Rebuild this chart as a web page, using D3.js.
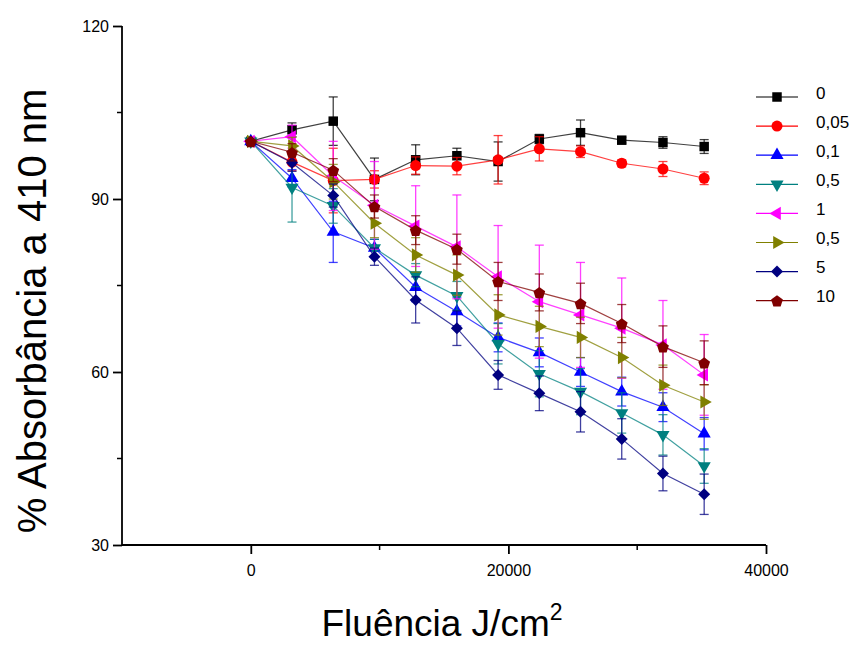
<!DOCTYPE html>
<html>
<head>
<meta charset="utf-8">
<script src="https://cdn.jsdelivr.net/npm/d3@7"></script>
<style>
  body { margin: 0; background: #fff; }
  svg { font-family: "Liberation Sans", Arial, sans-serif; }
</style>
</head>
<body>
<div id="chart"></div>
<script>
// fluence values (J/cm2)
const fluence = [0, 3200, 6400, 9600, 12800, 16000, 19200, 22400, 25600, 28800, 32000, 35200];

// legend labels, in drawing order
const labels = ["0", "0,05", "0,1", "0,5", "1", "0,5", "5", "10"];

// % absorbance for each series
const s0    = [100, 102.0, 103.5, 93.4, 96.8, 97.5, 96.5, 100.4, 101.5, 100.2, 99.8, 99.1];
const s005  = [100, 96.4, 93.2, 93.4, 95.8, 95.7, 96.8, 98.7, 98.2, 96.2, 95.2, 93.6];
const s01   = [100, 93.6, 84.3, 81.5, 74.7, 70.5, 66.0, 63.4, 60.0, 56.6, 53.9, 49.3];
const s05a  = [100, 92.0, 88.8, 81.5, 76.8, 73.2, 64.9, 59.7, 56.6, 52.9, 49.1, 43.7];
const s1    = [100, 100.8, 94.0, 88.9, 85.3, 81.7, 76.5, 72.2, 69.9, 67.6, 64.7, 59.5];
const s05b  = [100, 99.2, 93.0, 85.8, 80.3, 76.8, 69.9, 67.9, 66.0, 62.5, 57.7, 54.8];
const s5    = [100, 96.3, 90.6, 80.0, 72.5, 67.6, 59.5, 56.3, 53.1, 48.4, 42.4, 38.8];
const s10   = [100, 98.1, 95.0, 88.7, 84.6, 81.3, 75.7, 73.8, 71.9, 68.4, 64.4, 61.6];

// error bars (+/-)
const e0    = [0, 1.2, 4.2, 3.7, 2.6, 1.3, 3.4, 0.8, 2.2, 0.5, 1.0, 1.2];
const e005  = [0, 1.5, 5.6, 1.5, 1.5, 1.5, 4.2, 2.1, 1.0, 0.6, 1.3, 1.1];
const e01   = [0, 1.5, 5.3, 1.5, 2.5, 2.5, 2.5, 2.5, 2.5, 2.5, 2.5, 2.8];
const e05a  = [0, 6.0, 3.0, 1.5, 2.0, 2.5, 3.5, 4.0, 4.0, 3.5, 3.5, 3.0];
const e1    = [0, 2.0, 6.0, 7.6, 7.0, 9.0, 8.9, 9.8, 9.1, 8.7, 7.7, 7.0];
const e05b  = [0, 1.5, 3.0, 2.5, 3.0, 3.5, 3.5, 3.5, 3.5, 3.5, 3.5, 3.0];
const e5    = [0, 1.5, 2.0, 1.5, 4.0, 3.0, 2.5, 3.0, 3.5, 3.5, 3.0, 3.5];
const e10   = [0, 1.5, 2.0, 2.0, 2.5, 2.6, 3.3, 3.2, 3.5, 3.3, 3.6, 3.8];

// axis ticks
const xTicks = [0, 20000, 40000];
const xMinor = [10000, 30000];
const yTicks = [30, 60, 90, 120];
const yMinor = [45, 75, 105];

const values = [s0, s005, s01, s05a, s1, s05b, s5, s10];
const errors = [e0, e005, e01, e05a, e1, e05b, e5, e10];
const colors = ["#000000", "#ff0000", "#0000ff", "#008080", "#ff00ff", "#808000", "#000080", "#800000"];
const shapes = ["square", "circle", "up", "down", "left", "right", "diamond", "pentagon"];

const width = 859, height = 646;
const svg = d3.select("#chart").append("svg")
  .attr("width", width)
  .attr("height", height);

const x = d3.scaleLinear().domain([-10000, 40000]).range([122, 766]);
const y = d3.scaleLinear().domain([30, 120]).range([545, 26]);

// marker paths
function markerPath(shape) {
  const tri = d3.symbol().type(d3.symbolTriangle).size(75)();
  switch (shape) {
    case "square": return { d: d3.symbol().type(d3.symbolSquare).size(90)(), rot: 0 };
    case "circle": return { d: d3.symbol().type(d3.symbolCircle).size(95)(), rot: 0 };
    case "up": return { d: tri, rot: 0 };
    case "down": return { d: tri, rot: 180 };
    case "left": return { d: tri, rot: -90 };
    case "right": return { d: tri, rot: 90 };
    case "diamond": return { d: d3.symbol().type(d3.symbolSquare).size(72)(), rot: 45 };
    case "pentagon": {
      const r = 6.2;
      const pts = d3.range(5).map(i => {
        const a = -Math.PI / 2 + i * 2 * Math.PI / 5;
        return [r * Math.cos(a), r * Math.sin(a) + 0.8];
      });
      return { d: "M" + pts.map(p => p.join(",")).join("L") + "Z", rot: 0 };
    }
  }
}

// axes
const xAxis = d3.axisBottom(x).tickValues(xTicks).tickSize(9).tickPadding(11).tickFormat(d3.format("d"));
const yAxis = d3.axisLeft(y).tickValues(yTicks).tickSize(9).tickPadding(4);

const gx = svg.append("g").attr("transform", "translate(0,545)").call(xAxis);
gx.append("g").selectAll("line").data(xMinor).enter().append("line")
  .attr("x1", d => x(d)).attr("x2", d => x(d)).attr("y1", 0).attr("y2", 5)
  .attr("stroke", "#000").attr("stroke-width", 1.5);

const gy = svg.append("g").attr("transform", "translate(122,0)").call(yAxis);
gy.append("g").selectAll("line").data(yMinor).enter().append("line")
  .attr("y1", d => y(d)).attr("y2", d => y(d)).attr("x1", 0).attr("x2", -5)
  .attr("stroke", "#000").attr("stroke-width", 1.5);

[gx, gy].forEach(g => {
  g.select(".domain").attr("stroke-width", 1.8).attr("d", null);
  g.selectAll(".tick line").attr("stroke-width", 1.8);
  g.selectAll(".tick text").attr("font-size", 16).attr("fill", "#000")
    .attr("font-family", "Liberation Sans, Arial, sans-serif");
});
// redraw axis lines without outer ticks
svg.append("line").attr("x1", x(-10000)).attr("x2", x(40000)).attr("y1", 545).attr("y2", 545)
  .attr("stroke", "#000").attr("stroke-width", 1.8);
svg.append("line").attr("x1", 122).attr("x2", 122).attr("y1", y(120)).attr("y2", y(30))
  .attr("stroke", "#000").attr("stroke-width", 1.8);

// axis titles
svg.append("text")
  .attr("transform", "translate(46,311) rotate(-90)")
  .attr("text-anchor", "middle")
  .attr("font-size", 40)
  .text("% Absorbância a 410 nm");

const xt = svg.append("text")
  .attr("x", 442).attr("y", 636)
  .attr("text-anchor", "middle")
  .attr("font-size", 37)
  .text("Fluência J/cm");
xt.append("tspan").attr("dy", -16).attr("font-size", 23).text("2");

// series
const line = d3.line().x((d, i) => x(fluence[i])).y(d => y(d));

values.forEach((vals, k) => {
  const g = svg.append("g").attr("class", "series-" + k);
  const col = colors[k];

  // error bars
  const eb = g.selectAll(".err").data(vals).enter().append("g")
    .attr("stroke", col).attr("stroke-opacity", 0.75).attr("stroke-width", 1.3);
  eb.append("line")
    .attr("x1", (d, i) => x(fluence[i])).attr("x2", (d, i) => x(fluence[i]))
    .attr("y1", (d, i) => y(d + errors[k][i])).attr("y2", (d, i) => y(d - errors[k][i]));
  eb.append("line")
    .attr("x1", (d, i) => x(fluence[i]) - 4.5).attr("x2", (d, i) => x(fluence[i]) + 4.5)
    .attr("y1", (d, i) => y(d + errors[k][i])).attr("y2", (d, i) => y(d + errors[k][i]));
  eb.append("line")
    .attr("x1", (d, i) => x(fluence[i]) - 4.5).attr("x2", (d, i) => x(fluence[i]) + 4.5)
    .attr("y1", (d, i) => y(d - errors[k][i])).attr("y2", (d, i) => y(d - errors[k][i]));

  // connecting line
  g.append("path")
    .attr("d", line(vals))
    .attr("fill", "none")
    .attr("stroke", col)
    .attr("stroke-opacity", 0.75)
    .attr("stroke-width", 1.2);

  // markers
  const m = markerPath(shapes[k]);
  g.selectAll(".pt").data(vals).enter().append("path")
    .attr("d", m.d)
    .attr("transform", (d, i) => `translate(${x(fluence[i])},${y(d)}) rotate(${m.rot})`)
    .attr("fill", col);
});

// legend
const legend = svg.append("g").attr("transform", "translate(756,97)");
labels.forEach((lab, k) => {
  const row = legend.append("g").attr("transform", `translate(0,${k * 29.1})`);
  row.append("line").attr("x1", 0).attr("x2", 42).attr("y1", 0).attr("y2", 0)
    .attr("stroke", colors[k]).attr("stroke-width", 1.2);
  const m = markerPath(shapes[k]);
  row.append("path").attr("d", m.d)
    .attr("transform", `translate(21,0) rotate(${m.rot})`)
    .attr("fill", colors[k]);
  row.append("text").attr("x", 60).attr("y", 0).attr("dy", "0.1em")
    .attr("font-size", 17).text(lab);
});
</script>
</body>
</html>
